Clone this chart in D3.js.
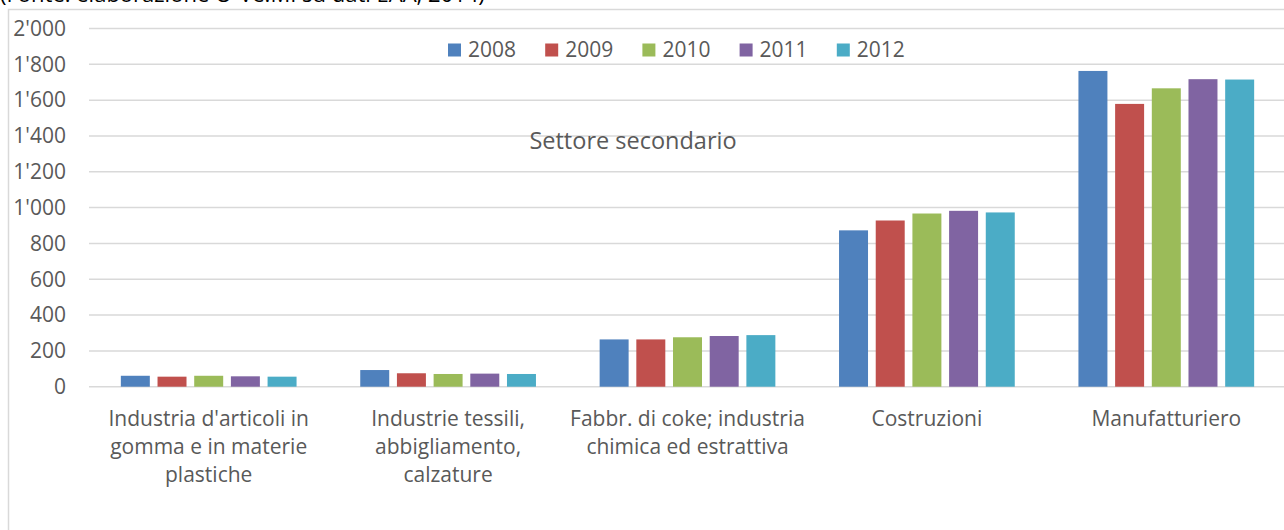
<!DOCTYPE html>
<html>
<head>
<meta charset="utf-8">
<script src="https://cdn.jsdelivr.net/npm/d3@7"></script>
<style>
  body { margin: 0; background: #fff; }
  text { font-family: "Open Sans", sans-serif; }
</style>
</head>
<body>
<div id="chart"></div>
<script>
const categories = ["gomma", "tessili", "chimica", "costruzioni", "manufatturiero"];
const categoryLabels = [
    ["Industria d'articoli in", "gomma e in materie", "plastiche"],
    ["Industrie tessili,", "abbigliamento,", "calzature"],
    ["Fabbr. di coke; industria", "chimica ed estrattiva"],
    ["Costruzioni"],
    ["Manufatturiero"]
];
const years = ["2008", "2009", "2010", "2011", "2012"];
const values2008 = [61, 93, 264, 873, 1763];
const values2009 = [56, 75, 264, 928, 1579];
const values2010 = [61, 71, 276, 967, 1666];
const values2011 = [58, 73, 283, 982, 1717];
const values2012 = [56, 71, 288, 973, 1715];
const yTicks = [0, 200, 400, 600, 800, 1000, 1200, 1400, 1600, 1800, 2000];

const seriesValues = [values2008, values2009, values2010, values2011, values2012];
const colors = ["#4f81bd", "#c0504d", "#9bbb59", "#8064a2", "#4bacc6"];
const textColor = "#595959";
const gridColor = "#d9d9d9";
const fontSize = "21px";

const W = 1284, H = 530;
const plot = { left: 89, right: 1286, top: 28.5, bottom: 386.7 };

const svg = d3.select("#chart").append("svg")
    .attr("width", W)
    .attr("height", H);

// source note, clipped at the top as in the original
svg.append("text")
    .attr("x", 0)
    .attr("y", 2)
    .style("font-size", "22px")
    .attr("fill", "#000")
    .text("(Fonte: elaborazione O-Ve.MI su dati EAA, 2014)");

// chart frame
svg.append("rect")
    .attr("x", 8.5)
    .attr("y", 9.5)
    .attr("width", W)
    .attr("height", H)
    .attr("fill", "#fff")
    .attr("stroke", gridColor)
    .attr("stroke-width", 1.5);

const x0 = d3.scaleBand().domain(categories).range([plot.left, plot.right]).padding(0);
const x1 = d3.scaleBand().domain(years).range([0, x0.bandwidth()])
    .paddingInner(0.21).paddingOuter(0.868);
const y = d3.scaleLinear().domain([0, 2000]).range([plot.bottom, plot.top]);

// gridlines
svg.append("g").selectAll("line").data(yTicks).enter()
    .append("line")
    .attr("x1", plot.left)
    .attr("x2", W)
    .attr("y1", d => y(d))
    .attr("y2", d => y(d))
    .attr("stroke", gridColor)
    .attr("stroke-width", 1.5);

// y labels
svg.append("g").selectAll("text").data(yTicks).enter()
    .append("text")
    .attr("x", 66)
    .attr("y", d => y(d))
    .attr("dy", "0.35em")
    .attr("text-anchor", "end")
    .style("font-size", fontSize)
    .attr("fill", textColor)
    .text(d => d3.format(",")(d).replace(/,/g, "'"));

// bars
years.forEach((yr, i) => {
    svg.append("g").selectAll("rect").data(seriesValues[i]).enter()
        .append("rect")
        .attr("x", (d, j) => x0(categories[j]) + x1(yr))
        .attr("y", d => y(d))
        .attr("width", x1.bandwidth())
        .attr("height", d => y(0) - y(d))
        .attr("fill", colors[i]);
});

// category labels
categoryLabels.forEach((lines, j) => {
    const cx = x0(categories[j]) + x0.bandwidth() / 2;
    lines.forEach((ln, k) => {
        svg.append("text")
            .attr("x", cx)
            .attr("y", 426 + k * 28)
            .attr("text-anchor", "middle")
            .style("font-size", fontSize)
            .attr("fill", textColor)
            .text(ln);
    });
});

// legend
const legendX = 448, legendStep = 97.2;
years.forEach((yr, i) => {
    svg.append("rect")
        .attr("x", legendX + i * legendStep)
        .attr("y", 43.5)
        .attr("width", 13)
        .attr("height", 13)
        .attr("fill", colors[i]);
    svg.append("text")
        .attr("x", legendX + i * legendStep + 20)
        .attr("y", 57)
        .style("font-size", fontSize)
        .attr("fill", textColor)
        .text(yr);
});

// inner title
svg.append("text")
    .attr("x", 633)
    .attr("y", 149)
    .attr("text-anchor", "middle")
    .style("font-size", "23.5px")
    .attr("fill", textColor)
    .text("Settore secondario");
</script>
</body>
</html>
